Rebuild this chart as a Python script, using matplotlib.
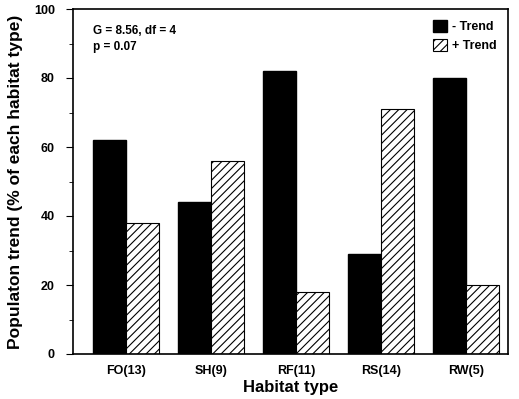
import numpy as np
import matplotlib.pyplot as plt
from matplotlib.ticker import MultipleLocator

plt.rcParams['font.family'] = ['Liberation Sans', 'DejaVu Sans']
plt.rcParams['font.weight'] = 'bold'
plt.rcParams['hatch.linewidth'] = 0.8

habitats = ['FO(13)', 'SH(9)', 'RF(11)', 'RS(14)', 'RW(5)']
minus_trend = [62, 44, 82, 29, 80]
plus_trend = [38, 56, 18, 71, 20]

x = np.arange(len(habitats))
w = 0.39

fig = plt.figure(figsize=(5.19, 3.99), dpi=100)
ax = fig.add_axes([73 / 519, 45 / 399, 435 / 519, 345 / 399])

ax.bar(x - w / 2, minus_trend, w, color='black', edgecolor='black', label='- Trend')
ax.bar(x + w / 2, plus_trend, w, color='white', edgecolor='black', hatch='////',
       linewidth=0.8, label='+ Trend')

ax.set_xlim(-0.62, 4.49)
ax.set_ylim(0, 100)
ax.set_xticks(x)
ax.set_xticklabels(habitats, fontsize=9, fontweight='bold')
ax.tick_params(axis='x', length=0, pad=8)
ax.yaxis.set_major_locator(MultipleLocator(20))
ax.yaxis.set_minor_locator(MultipleLocator(10))
ax.tick_params(axis='y', which='major', length=5, labelsize=9, pad=8)
ax.tick_params(axis='y', which='minor', length=3)
for lbl in ax.get_yticklabels():
    lbl.set_fontweight('bold')
for s in ax.spines.values():
    s.set_linewidth(1.2)

ax.set_xlabel('Habitat type', fontsize=12, fontweight='bold', labelpad=2)
ax.set_ylabel('Populaton trend (% of each habitat type)', fontsize=12.5,
              fontweight='bold', labelpad=8)

ax.text(0.045, 0.955, 'G = 8.56, df = 4\np = 0.07', transform=ax.transAxes,
        fontsize=8.5, fontweight='bold', va='top', ha='left', linespacing=1.5)

ax.legend(loc='upper right', frameon=False, handlelength=1.1,
          handleheight=1.1, handletextpad=0.4, borderaxespad=0.5, labelspacing=0.4,
          prop={'weight': 'bold', 'size': 9})

fig.savefig('out.png', dpi=100)
